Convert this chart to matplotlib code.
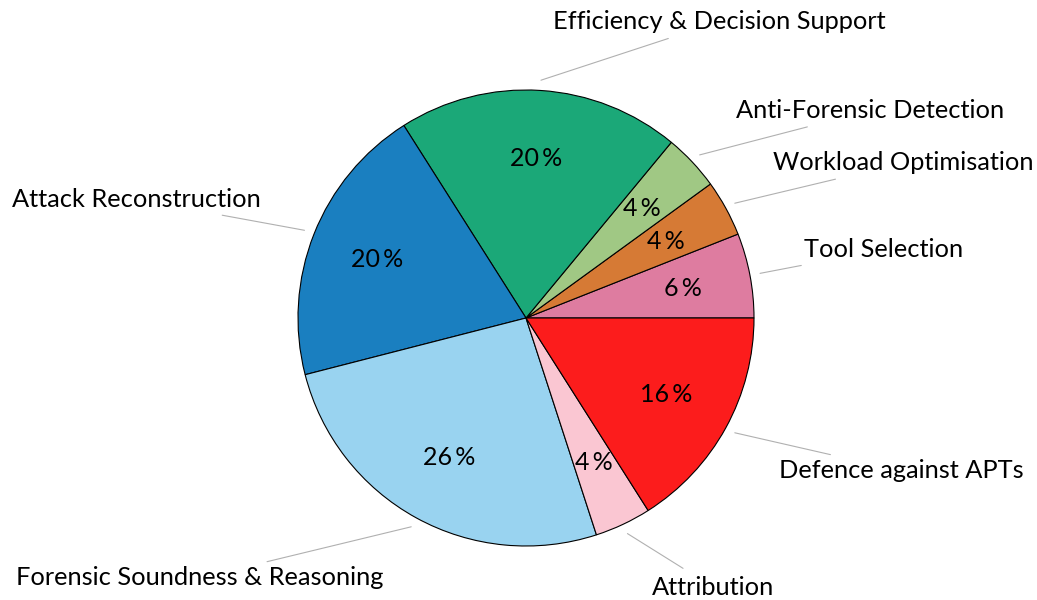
import matplotlib
matplotlib.use("Agg")
import matplotlib.pyplot as plt
import numpy as np

plt.rcParams['font.family'] = ['Lato', 'DejaVu Sans']

# Data
labels = ["Tool Selection", "Workload Optimisation", "Anti-Forensic Detection",
          "Efficiency & Decision Support", "Attack Reconstruction",
          "Forensic Soundness & Reasoning", "Attribution", "Defence against APTs"]
shares = [6, 4, 4, 20, 20, 26, 4, 16]
colors = ["#DE7CA0", "#D67A35", "#A0C884", "#1BA878", "#1A7FC0",
          "#99D3F0", "#FAC6D2", "#FC1C1C"]

# label placement (pie radius = 1)
label_pos = [(1.57, 0.30), (1.655, 0.68), (1.51, 0.91), (0.85, 1.30),
             (-1.71, 0.52), (-1.43, -1.14), (0.82, -1.18), (1.645, -0.67)]

fig = plt.figure(figsize=(10.37, 6.0), dpi=100)
ax = fig.add_axes([0, 0, 1, 1])

wedges, _, autotexts = ax.pie(
    shares, colors=colors, startangle=0, counterclock=True,
    autopct=lambda p: f"{p:.0f}\u2009%", pctdistance=0.7,
    wedgeprops=dict(edgecolor="black", linewidth=0.8),
    textprops=dict(fontsize=18, color="black"))

for w, lab, (tx, ty) in zip(wedges, labels, label_pos):
    mid = np.deg2rad((w.theta1 + w.theta2) / 2)
    x0, y0 = 1.045 * np.cos(mid), 1.045 * np.sin(mid)
    ax.annotate(lab, xy=(x0, y0), xytext=(tx, ty), ha="center", va="center",
                fontsize=18.3,
                arrowprops=dict(arrowstyle="-", color="#b0b0b0", lw=0.8,
                                shrinkA=6, shrinkB=0))

ax.set_xlim(-526 / 228, (1037 - 526) / 228)
ax.set_ylim(-(600 - 318) / 228, 318 / 228)
ax.set_aspect("equal")
ax.axis("off")

fig.savefig("out.png", dpi=100)
